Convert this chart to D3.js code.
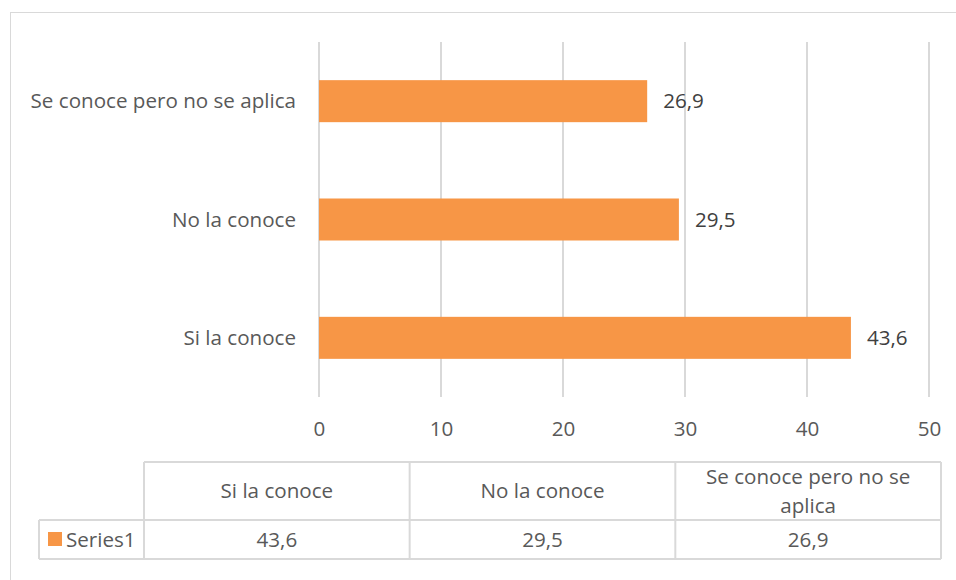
<!DOCTYPE html>
<html><head><meta charset="utf-8">
<script src="https://cdn.jsdelivr.net/npm/d3@7"></script>
<style>body{margin:0;background:#fff}svg{display:block}text{font-family:"Open Sans",sans-serif}</style>
</head><body><svg id="c" width="956" height="580"></svg>
<script>
const categories = ["Si la conoce", "No la conoce", "Se conoce pero no se aplica"];
const values = [43.6, 29.5, 26.9];
const valueLabels = ["43,6", "29,5", "26,9"];
const seriesName = "Series1";
const xTicks = [0, 10, 20, 30, 40, 50];
const headerLines = [["Si la conoce"], ["No la conoce"], ["Se conoce pero no se", "aplica"]];

const svg = d3.select("#c");
const grid = "#d9d9d9", txt = "#595959", dark = "#404040", bar = "#f79646";
const fs = 20.6;

// outer chart border
svg.append("rect").attr("x", 10.5).attr("y", 12.5).attr("width", 960).attr("height", 600)
  .attr("fill", "none").attr("stroke", grid);

const x = d3.scaleLinear().domain([0, 50]).range([319, 929]);
const y = d3.scaleBand().domain(categories.slice().reverse()).range([42, 397]).paddingInner(0.645).paddingOuter(0.3225);

// gridlines
svg.append("g").selectAll("line").data(xTicks).join("line")
  .attr("x1", d => x(d)).attr("x2", d => x(d)).attr("y1", 42).attr("y2", 397)
  .attr("stroke", grid).attr("stroke-width", 2);

// bars
const data = categories.map((c, i) => ({c, v: values[i], l: valueLabels[i]}));
svg.append("g").selectAll("rect").data(data).join("rect")
  .attr("x", x(0)).attr("y", d => y(d.c)).attr("width", d => x(d.v) - x(0)).attr("height", y.bandwidth())
  .attr("fill", bar);

// data labels
svg.append("g").selectAll("text").data(data).join("text")
  .attr("x", d => x(d.v) + 16).attr("y", d => y(d.c) + y.bandwidth() / 2).attr("dy", "0.35em")
  .attr("fill", dark).attr("font-size", fs).text(d => d.l);

// category labels
svg.append("g").selectAll("text").data(data).join("text")
  .attr("x", 296).attr("y", d => y(d.c) + y.bandwidth() / 2).attr("dy", "0.35em")
  .attr("text-anchor", "end").attr("fill", txt).attr("font-size", fs).text(d => d.c);

// x tick labels
const xAxis = svg.append("g").attr("transform", "translate(0,397)")
  .call(d3.axisBottom(x).tickValues(xTicks).tickSize(0).tickPadding(24).tickFormat(d3.format("d")));
xAxis.select(".domain").remove();
xAxis.selectAll("text").attr("fill", txt).attr("font-size", fs).attr("font-family", "Open Sans, sans-serif");

// data table
const colX = d3.scaleBand().domain(categories).range([144, 941]);
const tTop = 462, tMid = 520, tBot = 559, tLeft = 39;
const tg = svg.append("g").attr("stroke", grid).attr("stroke-width", 2).attr("fill", "none");
tg.append("line").attr("x1", 144).attr("x2", 941).attr("y1", tTop).attr("y2", tTop);
tg.append("line").attr("x1", tLeft).attr("x2", 941).attr("y1", tMid).attr("y2", tMid);
tg.append("line").attr("x1", tLeft).attr("x2", 941).attr("y1", tBot).attr("y2", tBot);
tg.append("line").attr("x1", tLeft).attr("x2", tLeft).attr("y1", tMid).attr("y2", tBot);
const bounds = categories.map(c => colX(c)).concat([941]);
tg.selectAll("line.v").data(bounds).join("line").attr("class", "v")
  .attr("x1", d => d).attr("x2", d => d).attr("y1", tTop).attr("y2", tBot);

// header text
const hg = svg.append("g");
categories.forEach((c, i) => {
  const lines = headerLines[i];
  const cx = colX(c) + colX.bandwidth() / 2;
  const mid = (tTop + tMid) / 2;
  const lh = 29;
  lines.forEach((ln, j) => {
    hg.append("text").attr("x", cx).attr("y", mid + (j - (lines.length - 1) / 2) * lh).attr("dy", "0.35em")
      .attr("text-anchor", "middle").attr("fill", txt).attr("font-size", fs).text(ln);
  });
});
// value row
svg.append("g").selectAll("text").data(data).join("text")
  .attr("x", d => colX(d.c) + colX.bandwidth() / 2).attr("y", (tMid + tBot) / 2).attr("dy", "0.35em")
  .attr("text-anchor", "middle").attr("fill", txt).attr("font-size", fs).text(d => d.l);
// legend key
svg.append("rect").attr("x", 48).attr("y", 532).attr("width", 14).attr("height", 14).attr("fill", bar);
svg.append("text").attr("x", 66).attr("y", (tMid + tBot) / 2).attr("dy", "0.35em")
  .attr("fill", txt).attr("font-size", fs).text(seriesName);
</script></body></html>
